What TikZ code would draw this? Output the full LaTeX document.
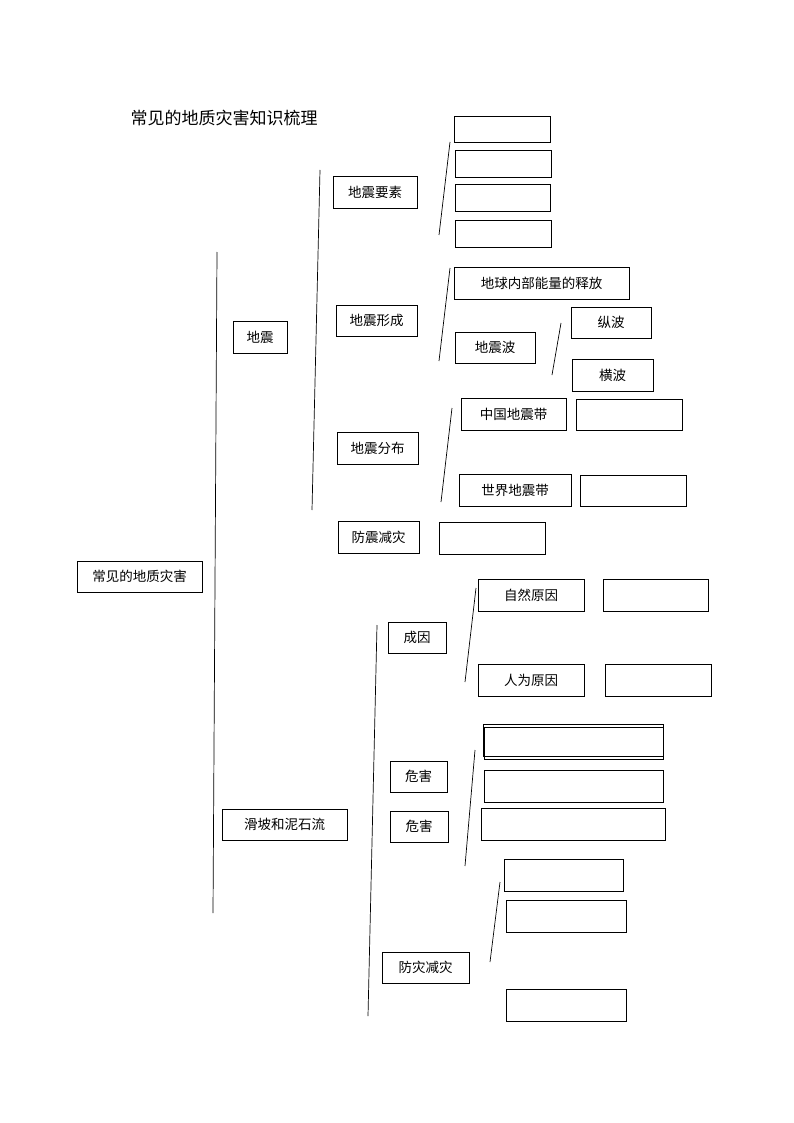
\documentclass[tikz,border=0pt]{standalone}
\usepackage{fontspec}
\setmainfont{Noto Sans CJK SC}
\begin{document}
\begin{tikzpicture}[x=1pt,y=-1pt,
  box/.style={draw,line width=0.7pt,inner sep=0pt,font=\fontsize{13.5}{15}\selectfont},
  ln/.style={line width=0.7pt}]
\useasboundingbox (0,0) rectangle (794,1123);
\newcommand\bx[6]{\node[box,minimum width={(#4-#2)*1pt},minimum height={(#5-#3)*1pt}] (#1) at ({(#2+#4)/2},{(#3+#5)/2}) {#6};}
\node[font=\fontsize{17}{19}\selectfont] (title) at (224,118) {常见的地质灾害知识梳理};
\bx{e1}{454}{116}{550}{142}{}
\bx{e2}{455}{150}{551}{177}{}
\bx{e3}{455}{184}{550}{211}{}
\bx{e4}{455}{220}{551}{247}{}
\bx{yaosu}{333}{176}{417}{208}{地震要素}
\bx{dz}{233}{321}{287}{353}{地震}
\bx{xc}{336}{305}{417}{336}{地震形成}
\bx{nl}{454}{267}{629}{299}{地球内部能量的释放}
\bx{dzb}{455}{332}{535}{363}{地震波}
\bx{zb}{571}{307}{651}{338}{纵波}
\bx{hb}{572}{359}{653}{391}{横波}
\bx{fb}{337}{432}{418}{464}{地震分布}
\bx{zg}{461}{398}{566}{430}{中国地震带}
\bx{e5}{576}{399}{682}{430}{}
\bx{sj}{459}{474}{571}{506}{世界地震带}
\bx{e6}{580}{475}{686}{506}{}
\bx{fz}{338}{521}{419}{553}{防震减灾}
\bx{e7}{439}{522}{545}{554}{}
\bx{root}{77}{561}{202}{592}{常见的地质灾害}
\bx{hp}{222}{809}{347}{840}{滑坡和泥石流}
\bx{cy}{388}{622}{446}{653}{成因}
\bx{zr}{478}{579}{584}{611}{自然原因}
\bx{e8}{603}{579}{708}{611}{}
\bx{rw}{478}{664}{584}{696}{人为原因}
\bx{e9}{605}{664}{711}{696}{}
\bx{wh1}{390}{761}{447}{792}{危害}
\bx{wh2}{390}{811}{448}{842}{危害}
\bx{e10}{484}{727}{663}{759}{}
\bx{e11}{483}{724}{663}{756}{}
\bx{e12}{484}{770}{663}{802}{}
\bx{e13}{481}{808}{665}{840}{}
\bx{e14}{504}{859}{623}{891}{}
\bx{e15}{506}{900}{626}{932}{}
\bx{e16}{506}{989}{626}{1021}{}
\bx{fzj}{382}{952}{469}{983}{防灾减灾}
\coordinate (a1) at (217,252); \coordinate (a2) at (213,913);
\coordinate (b1) at (320,170); \coordinate (b2) at (312,510);
\coordinate (c1) at (450,142); \coordinate (c2) at (439,235);
\coordinate (d1) at (450,268); \coordinate (d2) at (439,361);
\coordinate (f1) at (561,323); \coordinate (f2) at (552,375);
\coordinate (g1) at (452,408); \coordinate (g2) at (441,502);
\coordinate (h1) at (377,625); \coordinate (h2) at (368,1016);
\coordinate (i1) at (476,588); \coordinate (i2) at (465,682);
\coordinate (j1) at (475,750); \coordinate (j2) at (465,866);
\coordinate (k1) at (500,882); \coordinate (k2) at (490,962);
\foreach \p in {a,b,c,d,f,g,h,i,j,k} \draw[ln] (\p1) -- (\p2);
\end{tikzpicture}
\end{document}
